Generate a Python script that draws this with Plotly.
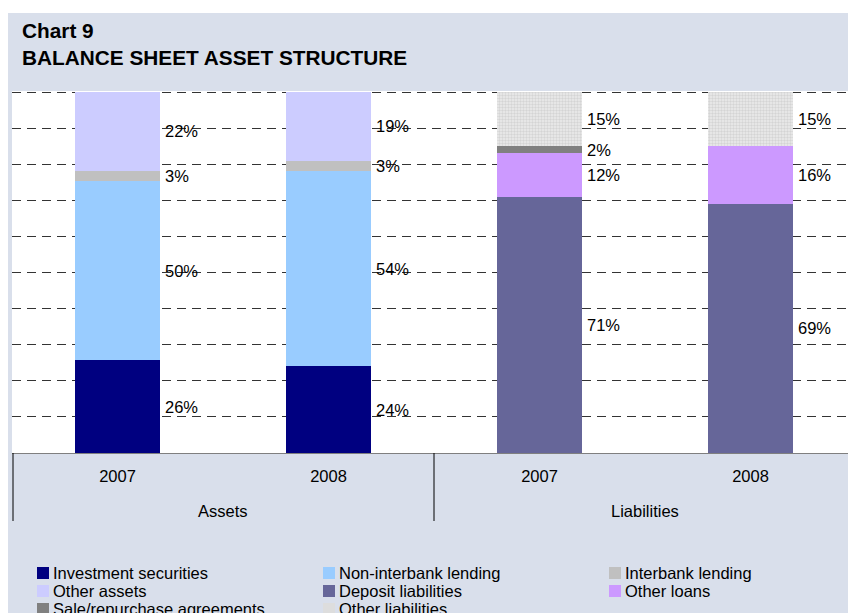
import plotly.graph_objects as go

# ---------------- data ----------------
groups = ["Assets", "Liabilities"]
categories = ["Assets 2007", "Assets 2008", "Liabilities 2007", "Liabilities 2008"]
year_labels = ["2007", "2008", "2007", "2008"]

investment_securities = [26, 24, None, None]
non_interbank_lending = [50, 54, None, None]
interbank_lending = [3, 3, None, None]
other_assets = [22, 19, None, None]
deposit_liabilities = [None, None, 71, 69]
other_loans = [None, None, 12, 16]
sale_repurchase = [None, None, 2, 0]
other_liabilities = [None, None, 15, 15]

series_names = ["Investment securities", "Non-interbank lending", "Interbank lending",
                "Other assets", "Deposit liabilities", "Other loans",
                "Sale/repurchase agreements", "Other liabilities"]
series_values = [investment_securities, non_interbank_lending, interbank_lending,
                 other_assets, deposit_liabilities, other_loans,
                 sale_repurchase, other_liabilities]
series_colors = ["#000080", "#99CCFF", "#C0C0C0", "#CCCCFF",
                 "#666699", "#CC99FF", "#808080", "#DDDDDD"]

# ---------------- layout constants (figure px) ----------------
W, H = 856, 613
PL, PR, PT, PB = 4, 8, 83, 168
PW, PH = W - PL - PR, H - PT - PB
FONT = "Liberation Sans, Arial, sans-serif"
BG = "#D9DFEB"
YMAX = 100.3


def px_x(p):
    return (p - PL) / PW


def px_y(p):
    return (H - PB - p) / PH


fig = go.Figure()
for name, vals, color in zip(series_names, series_values, series_colors):
    marker = dict(color=color, line=dict(width=0))
    if name == "Other liabilities":
        marker["pattern"] = dict(shape=".", fgcolor="#BBBBBB", bgcolor="#ECECEC",
                                 size=3, solidity=0.5)
    fig.add_trace(go.Bar(
        x=categories, y=vals, name=name, marker=marker, width=0.4,
        hoverinfo="skip", showlegend=False,
    ))

annotations = []

# value labels at the middle of each segment, right of the bar
for i in range(len(categories)):
    total = sum((v[i] or 0) for v in series_values)
    cum = 0.0
    for vals in series_values:
        v = vals[i]
        if v is None:
            continue
        mid = (cum + v / 2) / total * 100
        cum += v
        if v == 0:
            continue
        annotations.append(dict(
            x=i + 0.2, y=mid, xref="x", yref="y", text=f"{v}%",
            showarrow=False, xanchor="left", yanchor="middle", xshift=3,
            font=dict(family=FONT, size=16.5, color="#000000"),
        ))

# group labels of the x axis
for gi, g in enumerate(groups):
    annotations.append(dict(
        x=(2 * gi + 1) / 4, y=px_y(503), xref="paper", yref="paper", text=g,
        showarrow=False, xanchor="center", yanchor="middle",
        font=dict(family=FONT, size=16.5, color="#000000"),
    ))

shapes = [
    # thin white strip above the blue panel
    dict(type="rect", xref="paper", yref="paper", x0=px_x(0), x1=px_x(W), y0=px_y(5), y1=px_y(0),
         fillcolor="white", line=dict(width=0), layer="below"),
]
# group dividers below the axis
for b in [0, 0.5, 1.0]:
    xx = b + (1 / PW if b == 0 else 0)
    shapes.append(dict(type="line", xref="paper", yref="paper", x0=xx, x1=xx,
                       y0=px_y(445), y1=px_y(513), line=dict(color="#000000", width=1)))

# legend (three columns)
col_text_x = [43, 329, 615]
row_y0, row_dy = 565, 18
for k, (name, color) in enumerate(zip(series_names, series_colors)):
    col, row = k % 3, k // 3
    tx = col_text_x[col]
    cy = row_y0 + row * row_dy
    shapes.append(dict(type="rect", xref="paper", yref="paper",
                       x0=px_x(tx - 14), x1=px_x(tx - 2), y0=px_y(cy + 6), y1=px_y(cy - 6),
                       fillcolor=color, line=dict(width=0)))
    annotations.append(dict(
        x=px_x(tx), y=px_y(cy), xref="paper", yref="paper", text=name,
        showarrow=False, xanchor="left", yanchor="middle",
        font=dict(family=FONT, size=16.5, color="#000000"),
    ))

fig.update_layout(
    width=W, height=H,
    margin=dict(l=PL, r=PR, t=PT, b=PB, pad=0, autoexpand=False),
    paper_bgcolor=BG, plot_bgcolor="white",
    barmode="stack", barnorm="percent",
    font=dict(family=FONT, size=16.5, color="#000000"),
    title=dict(
        text="<b>Chart 9<br>BALANCE SHEET ASSET STRUCTURE</b>",
        x=14 / W, xanchor="left", xref="container",
        y=1 - 30 / H, yanchor="top", yref="container",
        font=dict(family=FONT, size=20.8, color="#000000"),
    ),
    xaxis=dict(
        type="category", showgrid=False, zeroline=False,
        showline=True, linecolor="#7F7F7F", linewidth=1,
        tickmode="array", tickvals=categories, ticktext=year_labels,
        ticklabelstandoff=8,
        tickfont=dict(family=FONT, size=16.5, color="#000000"),
    ),
    yaxis=dict(
        range=[0, YMAX], showticklabels=False, zeroline=False, showline=False,
        showgrid=True, gridcolor="#333333", gridwidth=1, griddash="9px,6px",
        dtick=10, tick0=0,
    ),
    annotations=annotations,
    shapes=shapes,
    showlegend=False,
)

fig.write_html("out.html")
